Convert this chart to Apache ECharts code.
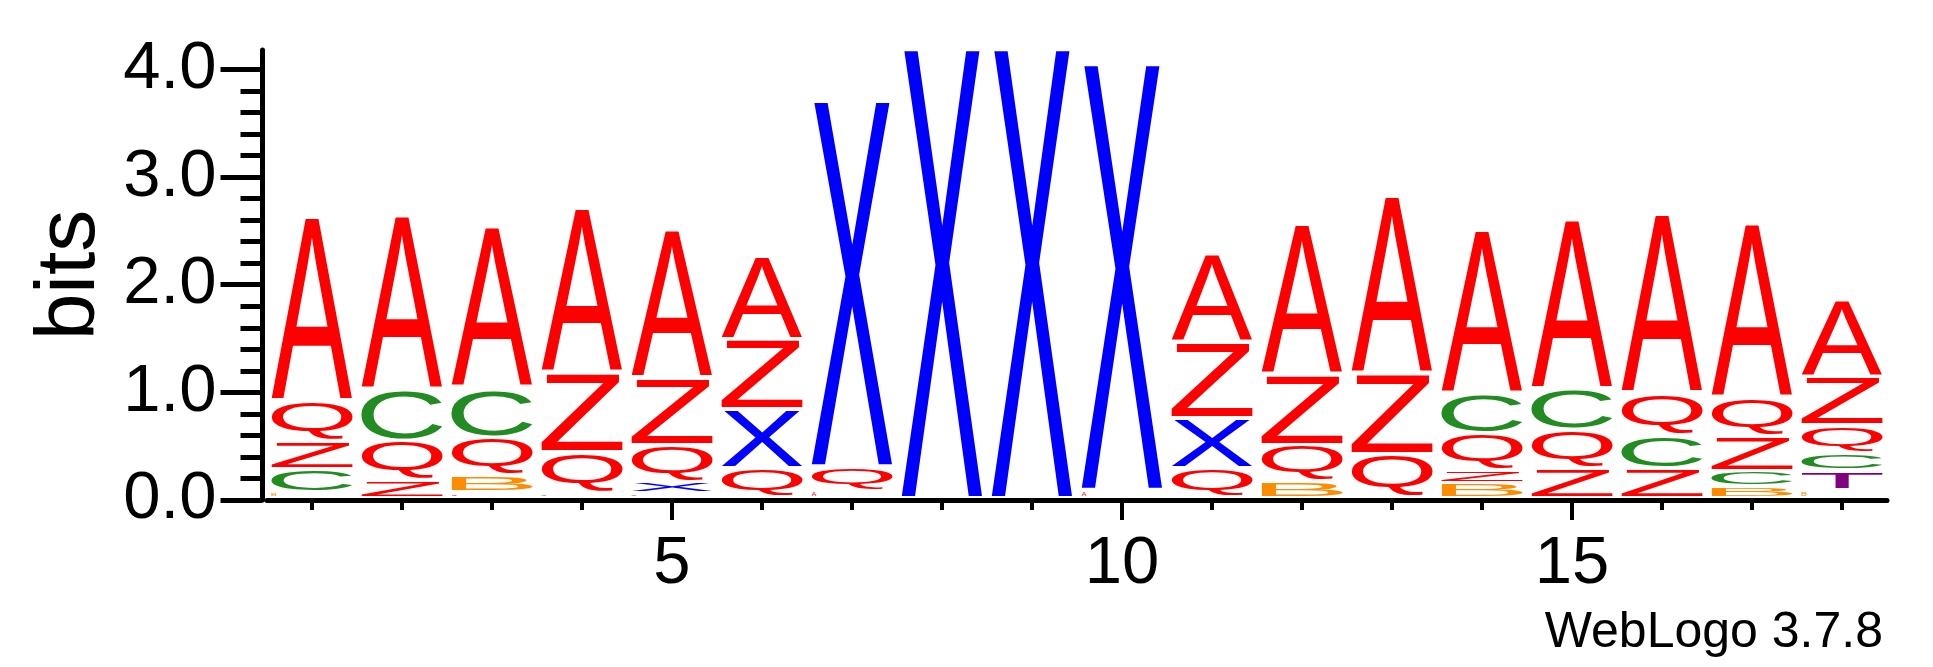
<!DOCTYPE html>
<html>
<head>
<meta charset="utf-8">
<script src="https://cdn.jsdelivr.net/npm/echarts@6/dist/echarts.min.js"></script>
<style>
html,body{margin:0;padding:0;background:#fff;}
#chart{width:1933px;height:667px;}
</style>
</head>
<body>
<div id="chart"></div>
<script>
// ---------------- data ----------------
const positions = [1,2,3,4,5,6,7,8,9,10,11,12,13,14,15,16,17,18];
// letters in each stack, bottom -> top
const stackLetters = [
  'BCZQA','ZQCA','ZBQCA','CQZA','CXQZA','QXZA','AQX','X','X',
  'AX','QXZA','BQZA','QZA','BZQCA','ZQCA','ZCQA','BCZQA','BTCQZA'
];
// height of each letter in bits, same order as stackLetters
const stackBits = [
  [0.056,0.216,0.260,0.366,1.717],
  [0.170,0.366,0.476,1.624],
  [0.053,0.154,0.356,0.458,1.494],
  [0.053,0.374,0.733,1.531],
  [0.046,0.102,0.346,0.619,1.383],
  [0.278,0.548,0.650,0.777],
  [0.077,0.217,3.404],
  [4.180],
  [4.180],
  [0.077,3.963],
  [0.278,0.464,0.703,0.829],
  [0.155,0.340,0.650,1.408],
  [0.408,0.752,1.655],
  [0.139,0.123,0.341,0.371,1.522],
  [0.272,0.362,0.378,1.587],
  [0.272,0.310,0.393,1.671],
  [0.109,0.145,0.319,0.362,1.618],
  [0.075,0.182,0.161,0.257,0.455,0.717]
];
const xMajorTicks = [5,10,15];
const xTickLabels = ['5','10','15'];
const yMajorTicks = [0,1,2,3,4];
const yTickLabels = ['0.0','1.0','2.0','3.0','4.0'];
const yMinorTicks = [0,0.2,0.4,0.6,0.8,1,1.2,1.4,1.6,1.8,2,2.2,2.4,2.6,2.8,3,3.2,3.4,3.6,3.8,4];
const yMax = 4.18;
const xMin = 0.5, xMax = 18.5;
const yName = 'bits';
const footnote = 'WebLogo 3.7.8';

// ---------------- styles ----------------
const letterColors = {A:'#ff0000', Z:'#ff0000', Q:'#ff0000', C:'#228b22', X:'#0000ff', B:'#ff8c00', T:'#800080'};
const FAMILY = 'Liberation Sans';
const FONT_PX = 200;
const FONT = FONT_PX + 'px "' + FAMILY + '"';
const HALF = 0.45;      // half letter width in position units
const GAP = 4;          // px gap under each letter
const TINY = 5;         // letters shorter than this (px) drawn at natural aspect

// glyph ink metrics relative to a left / middle text origin
const mctx = document.createElement('canvas').getContext('2d');
mctx.font = FONT; mctx.textAlign = 'left'; mctx.textBaseline = 'middle';
const metrics = {};
Object.keys(letterColors).forEach(ch => {
  const t = mctx.measureText(ch);
  metrics[ch] = {
    left: t.actualBoundingBoxLeft,
    w: t.actualBoundingBoxLeft + t.actualBoundingBoxRight,
    asc: t.actualBoundingBoxAscent,
    h: t.actualBoundingBoxAscent + t.actualBoundingBoxDescent
  };
});

// build rows [pos, bottom, top] + letters
const rows = [], rowLetters = [];
positions.forEach((p, i) => {
  let cum = 0;
  const letters = stackLetters[i].split('');
  letters.forEach((ch, j) => {
    const h = stackBits[i][j];
    rows.push([p, cum, cum + h]);
    rowLetters.push(ch);
    cum += h;
  });
});

function renderLetter(params, api) {
  const ch = rowLetters[params.dataIndex];
  const m = metrics[ch];
  const x = api.value(0), b = api.value(1), t = api.value(2);
  const pTL = api.coord([x - HALF, t]);
  const pBR = api.coord([x + HALF, b]);
  let x0 = pTL[0], x1 = pBR[0], y0 = pTL[1], y1 = pBR[1] - GAP;
  let hh = y1 - y0;
  if (hh < TINY) {
    hh = Math.max(hh, 1.5);
    y0 = y1 - hh;
    x1 = x0 + Math.max(hh * m.w / m.h, 5);
  }
  const sx = (x1 - x0) / m.w, sy = (y1 - y0) / m.h;
  return {
    type: 'text',
    x: x0 + sx * m.left,
    y: y0 + sy * m.asc,
    scaleX: sx,
    scaleY: sy,
    style: {
      text: ch, font: FONT, fill: letterColors[ch],
      align: 'left', verticalAlign: 'middle'
    }
  };
}

const labelStyle = {fontFamily: FAMILY, fontSize: 67, color: '#000'};

const chart = echarts.init(document.getElementById('chart'), null, {renderer: 'canvas'});
chart.setOption({
  backgroundColor: '#fff',
  animation: false,
  title: {
    text: footnote, right: 50, top: 608, padding: 0,
    textStyle: {fontFamily: FAMILY, fontSize: 50, fontWeight: 'normal', color: '#000'}
  },
  grid: {left: 267, right: 46, top: 50, bottom: 167, containLabel: false},
  xAxis: [
    {
      type: 'value', min: xMin, max: xMax, position: 'bottom',
      axisLine: {show: true, lineStyle: {color: '#000', width: 5}},
      axisTick: {show: true, customValues: positions, length: 10, lineStyle: {color: '#000', width: 4}},
      axisLabel: {show: false}, splitLine: {show: false}
    },
    {
      type: 'value', min: xMin, max: xMax, position: 'bottom',
      axisLine: {show: false},
      axisTick: {show: true, customValues: xMajorTicks, length: 20, lineStyle: {color: '#000', width: 4}},
      axisLabel: Object.assign({show: true, customValues: xMajorTicks, margin: 31,
        formatter: v => xTickLabels[xMajorTicks.indexOf(v)]}, labelStyle),
      splitLine: {show: false}
    }
  ],
  yAxis: [
    {
      type: 'value', min: 0, max: yMax, position: 'left', offset: 4.5,
      axisLine: {show: true, lineStyle: {color: '#000', width: 5}},
      axisTick: {show: true, customValues: yMajorTicks, length: 42, lineStyle: {color: '#000', width: 5}},
      axisLabel: Object.assign({show: true, customValues: yMajorTicks, margin: 46,
        formatter: v => yTickLabels[yMajorTicks.indexOf(v)]}, labelStyle),
      splitLine: {show: false},
      name: yName, nameLocation: 'middle', nameGap: 150,
      nameTextStyle: {fontFamily: FAMILY, fontSize: 84, color: '#000'}
    },
    {
      type: 'value', min: 0, max: yMax, position: 'left', offset: 4.5,
      axisLine: {show: false},
      axisTick: {show: true, customValues: yMinorTicks, length: 22, lineStyle: {color: '#000', width: 5}},
      axisLabel: {show: false}, splitLine: {show: false}
    }
  ],
  series: [{
    type: 'custom',
    xAxisIndex: 0, yAxisIndex: 0,
    renderItem: renderLetter,
    data: rows,
    silent: true,
    clip: false
  }]
});
</script>
</body>
</html>
